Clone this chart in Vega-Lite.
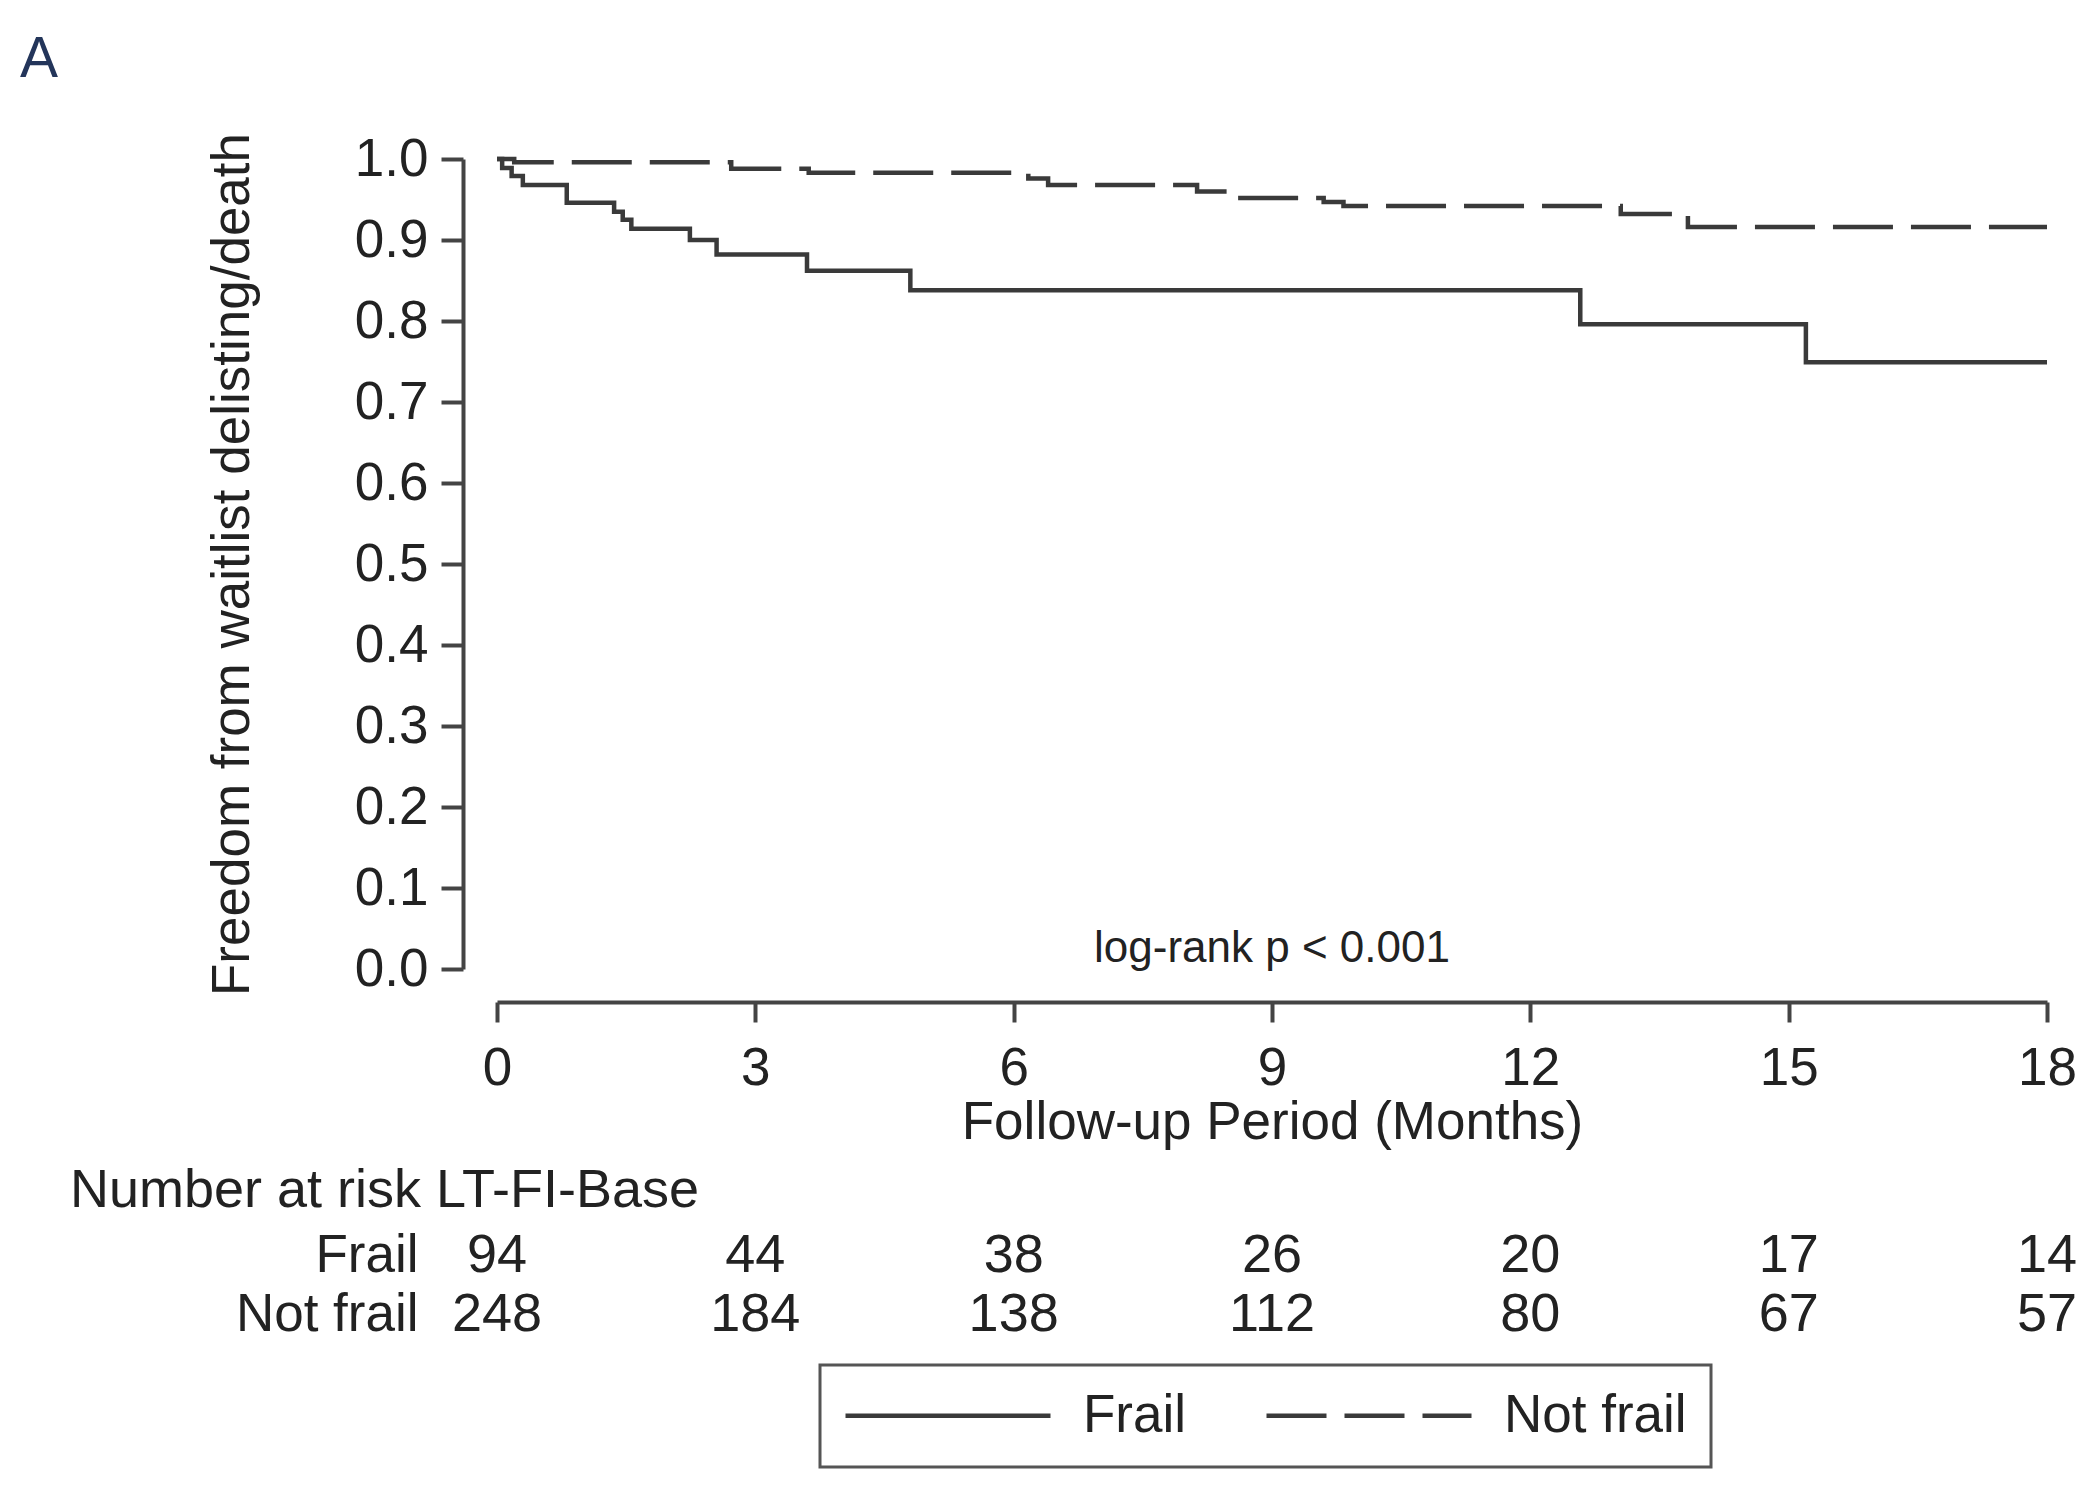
{
  "$schema": "https://vega.github.io/schema/vega-lite/v6.json",
  "background": "white",
  "padding": {"left": 20, "top": 31, "right": 20, "bottom": 20},
  "title": {"text": "A", "anchor": "start", "frame": "bounds", "dx": -50, "offset": 43, "fontSize": 57, "fontWeight": "normal", "color": "#23355a", "font": "Liberation Sans"},
  "config": {
    "font": "Liberation Sans",
    "view": {"stroke": null},
    "axis": {
      "domainColor": "#444", "domainWidth": 4, "tickColor": "#444", "tickWidth": 4,
      "labelColor": "#222", "titleColor": "#222", "labelFontSize": 53, "titleFontSize": 53,
      "titleFontWeight": "normal", "grid": false, "labelFont": "Liberation Sans", "titleFont": "Liberation Sans"
    },
    "legend": {"strokeWidth": 3}
  },
  "spacing": 15,
  "vconcat": [
    {
      "width": 1550,
      "height": 810,
      "layer": [
        {
          "data": {"values": [
            {"group": "Frail", "t": 0, "s": 1.0},
            {"group": "Frail", "t": 0.06, "s": 0.989},
            {"group": "Frail", "t": 0.17, "s": 0.979},
            {"group": "Frail", "t": 0.3, "s": 0.968},
            {"group": "Frail", "t": 0.81, "s": 0.946},
            {"group": "Frail", "t": 1.36, "s": 0.935},
            {"group": "Frail", "t": 1.46, "s": 0.925},
            {"group": "Frail", "t": 1.56, "s": 0.914},
            {"group": "Frail", "t": 2.24, "s": 0.9},
            {"group": "Frail", "t": 2.55, "s": 0.882},
            {"group": "Frail", "t": 3.6, "s": 0.862},
            {"group": "Frail", "t": 4.8, "s": 0.838},
            {"group": "Frail", "t": 12.58, "s": 0.796},
            {"group": "Frail", "t": 15.2, "s": 0.749},
            {"group": "Frail", "t": 18, "s": 0.749},
            {"group": "Not frail", "t": 0, "s": 1.0},
            {"group": "Not frail", "t": 0.2, "s": 0.996},
            {"group": "Not frail", "t": 2.72, "s": 0.988},
            {"group": "Not frail", "t": 3.62, "s": 0.983},
            {"group": "Not frail", "t": 6.17, "s": 0.976},
            {"group": "Not frail", "t": 6.4, "s": 0.968},
            {"group": "Not frail", "t": 8.13, "s": 0.96},
            {"group": "Not frail", "t": 8.6, "s": 0.952},
            {"group": "Not frail", "t": 9.6, "s": 0.947},
            {"group": "Not frail", "t": 9.83, "s": 0.942},
            {"group": "Not frail", "t": 13.05, "s": 0.932},
            {"group": "Not frail", "t": 13.83, "s": 0.916},
            {"group": "Not frail", "t": 18, "s": 0.916}
          ]},
          "mark": {"type": "line", "interpolate": "step-after", "strokeWidth": 4.5, "color": "#3a3a3a"},
          "encoding": {
            "x": {
              "field": "t", "type": "quantitative",
              "scale": {"domain": [0, 18], "nice": false, "zero": false},
              "axis": {"values": [0, 3, 6, 9, 12, 15, 18], "format": "d", "offset": 33, "tickSize": 20, "labelPadding": 20, "title": "Follow-up Period (Months)", "titlePadding": 1, "labelFlush": false}
            },
            "y": {
              "field": "s", "type": "quantitative",
              "scale": {"domain": [0, 1], "nice": false},
              "axis": {"values": [0, 0.1, 0.2, 0.3, 0.4, 0.5, 0.6, 0.7, 0.8, 0.9, 1.0], "format": ".1f", "offset": 34, "tickSize": 22, "labelPadding": 13, "title": "Freedom from waitlist delisting/death", "titlePadding": 95}
            },
            "strokeDash": {
              "field": "group", "type": "nominal",
              "scale": {"domain": ["Frail", "Not frail"], "range": [[1, 0], [60, 18]]},
              "legend": {
                "orient": "none", "legendX": 323, "legendY": 1206, "direction": "horizontal",
                "title": null, "strokeColor": "#555", "padding": 24,
                "symbolType": "M-2.5,0H18", "symbolSize": 400, "symbolStrokeWidth": 4.5, "symbolStrokeColor": "#3a3a3a",
                "labelFontSize": 53, "labelColor": "#222", "labelOffset": 186, "columnPadding": 70, "labelFont": "Liberation Sans", "labelLimit": 0
              }
            }
          }
        },
        {
          "data": {"values": [{"t": 9, "s": 0.025, "label": "log-rank p < 0.001"}]},
          "mark": {"type": "text", "fontSize": 44, "color": "#222", "baseline": "middle", "align": "center", "font": "Liberation Sans"},
          "encoding": {
            "x": {"field": "t", "type": "quantitative"},
            "y": {"field": "s", "type": "quantitative"},
            "text": {"field": "label", "type": "nominal"}
          }
        }
      ]
    },
    {
      "width": 1550,
      "height": 118,
      "title": {"text": "Number at risk LT-FI-Base", "anchor": "start", "frame": "group", "dx": -427, "offset": 8, "fontSize": 54, "fontWeight": "normal", "color": "#222", "font": "Liberation Sans"},
      "data": {"values": [
        {"group": "Frail", "t": 0, "n": 94},
        {"group": "Frail", "t": 3, "n": 44},
        {"group": "Frail", "t": 6, "n": 38},
        {"group": "Frail", "t": 9, "n": 26},
        {"group": "Frail", "t": 12, "n": 20},
        {"group": "Frail", "t": 15, "n": 17},
        {"group": "Frail", "t": 18, "n": 14},
        {"group": "Not frail", "t": 0, "n": 248},
        {"group": "Not frail", "t": 3, "n": 184},
        {"group": "Not frail", "t": 6, "n": 138},
        {"group": "Not frail", "t": 9, "n": 112},
        {"group": "Not frail", "t": 12, "n": 80},
        {"group": "Not frail", "t": 15, "n": 67},
        {"group": "Not frail", "t": 18, "n": 57}
      ]},
      "mark": {"type": "text", "fontSize": 54, "color": "#222", "baseline": "middle", "align": "center", "font": "Liberation Sans"},
      "encoding": {
        "x": {"field": "t", "type": "quantitative", "scale": {"domain": [0, 18], "nice": false, "zero": false}, "axis": null},
        "y": {"field": "group", "type": "nominal", "scale": {"type": "point", "domain": ["Frail", "Not frail"], "padding": 0.5}, "axis": {"title": null, "domain": false, "ticks": false, "labelPadding": 79, "labelFontSize": 53, "labelLimit": 0}},
        "text": {"field": "n", "type": "nominal"}
      }
    }
  ]
}
